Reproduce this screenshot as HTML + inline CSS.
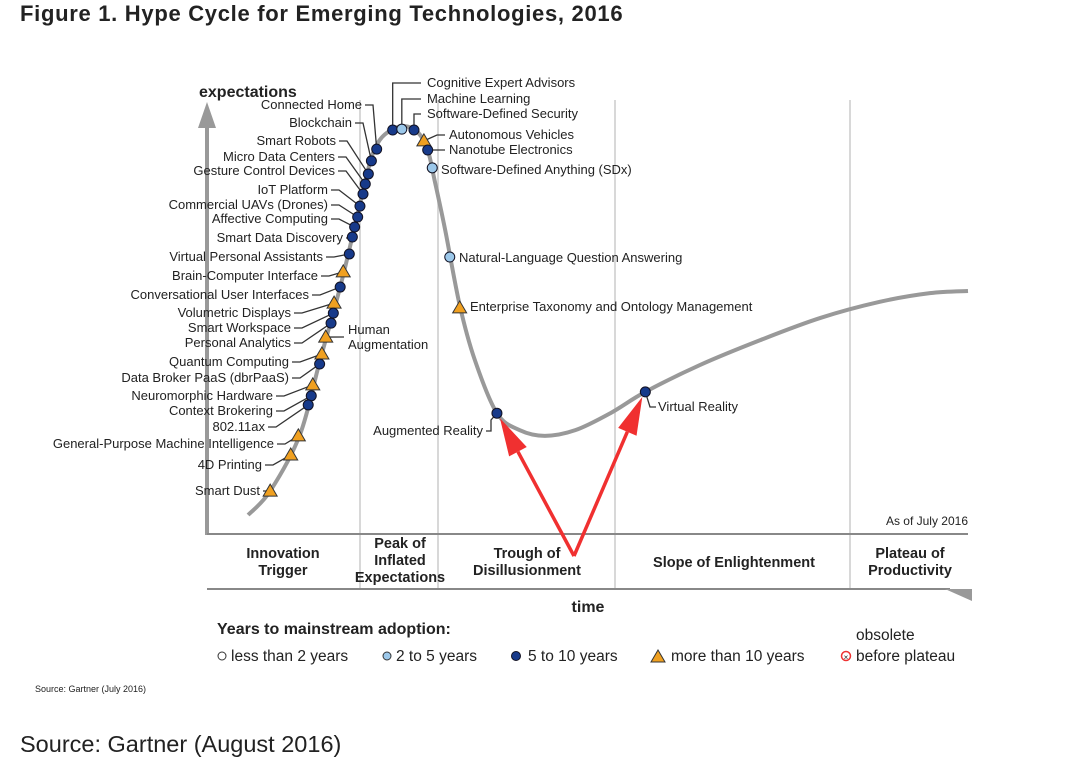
<!DOCTYPE html>
<html><head><meta charset="utf-8">
<style>
body{margin:0;background:#fff;width:1080px;height:760px;overflow:hidden;font-family:"Liberation Sans",sans-serif;}
svg{position:absolute;left:0;top:0}
text{font-family:"Liberation Sans",sans-serif;fill:#222}
</style></head><body>
<svg id="chart" width="1080" height="760">
<text x="20" y="21" font-size="22" font-weight="bold" fill="#333" letter-spacing="0.7">Figure 1. Hype Cycle for Emerging Technologies, 2016</text>
<g stroke="#ccc" stroke-width="1.5">
<line x1="360" y1="100" x2="360" y2="589"/><line x1="438" y1="100" x2="438" y2="589"/>
<line x1="615" y1="100" x2="615" y2="589"/><line x1="850" y1="100" x2="850" y2="589"/>
</g>
<line x1="207" y1="535" x2="207" y2="125" stroke="#999" stroke-width="4"/>
<polygon points="198,128 216,128 207,102" fill="#999"/>
<text x="199" y="97" font-size="16" font-weight="bold">expectations</text>
<line x1="207" y1="534" x2="968" y2="534" stroke="#888" stroke-width="2"/>
<line x1="207" y1="589" x2="950" y2="589" stroke="#888" stroke-width="2"/>
<polygon points="945,589 972,589 972,601" fill="#999"/>
<text x="968" y="525" font-size="12" text-anchor="end">As of July 2016</text>
<g font-size="14.5" font-weight="bold" text-anchor="middle">
<text x="283" y="558">Innovation</text><text x="283" y="575">Trigger</text>
<text x="400" y="548">Peak of</text><text x="400" y="565">Inflated</text><text x="400" y="582">Expectations</text>
<text x="527" y="558">Trough of</text><text x="527" y="575">Disillusionment</text>
<text x="734" y="567">Slope of Enlightenment</text>
<text x="910" y="558">Plateau of</text><text x="910" y="575">Productivity</text>
</g>
<text x="588" y="612" font-size="16" font-weight="bold" text-anchor="middle">time</text>
<g id="plot"></g>
<g font-size="15.5">
<text x="217" y="634" font-weight="bold" font-size="16">Years to mainstream adoption:</text>
<circle cx="222" cy="656" r="4" fill="#fff" stroke="#333"/><text x="231" y="661">less than 2 years</text>
<circle cx="387" cy="656" r="4" fill="#9cc8ea" stroke="#333"/><text x="396" y="661">2 to 5 years</text>
<circle cx="516" cy="656" r="4.5" fill="#173a8a" stroke="#112"/><text x="528" y="661">5 to 10 years</text>
<polygon points="651,662 665,662 658,650" fill="#f0a020" stroke="#333"/><text x="671" y="661">more than 10 years</text>
<circle cx="846" cy="656" r="4.5" fill="#fff" stroke="#e33" stroke-width="1.5"/><text x="846" y="660" font-size="8" fill="#e33" text-anchor="middle">×</text>
<text x="856" y="640">obsolete</text><text x="856" y="661">before plateau</text>
</g>
<text x="35" y="692" font-size="9" fill="#444">Source: Gartner (July 2016)</text>
<text x="20" y="752" font-size="23.5" fill="#666">Source: Gartner (August 2016)</text>
</svg>
<script>
const curveT=[5.4,8.3,12.2,14.8,17.5,19.4,21.4,22.7,24.4,26,27.7,29,29.9,31.3,33.2,35.2,38.1,41.1,44.4,48.4,53,57.6,64.8,72.7,80.6,88.4,95,100];
const curveE=[4.6,10.1,23,39.8,57,70.8,85.5,90.8,93.3,94,92.6,88.5,81.6,70.1,52.9,40.2,28,24.1,22.8,24.1,28,32.9,39.1,44.8,49.9,53.6,55.6,56.1];
const techNames=["Connected Home","Blockchain","Smart Robots","Micro Data Centers","Gesture Control Devices","IoT Platform","Commercial UAVs (Drones)","Affective Computing","Smart Data Discovery","Virtual Personal Assistants","Brain-Computer Interface","Conversational User Interfaces","Volumetric Displays","Smart Workspace","Personal Analytics","Quantum Computing","Data Broker PaaS (dbrPaaS)","Neuromorphic Hardware","Context Brokering","802.11ax","General-Purpose Machine Intelligence","4D Printing","Smart Dust","Human Augmentation","Cognitive Expert Advisors","Machine Learning","Software-Defined Security","Autonomous Vehicles","Nanotube Electronics","Software-Defined Anything (SDx)","Natural-Language Question Answering","Enterprise Taxonomy and Ontology Management","Augmented Reality","Virtual Reality"];
const techT=[22.3,21.6,21.2,20.8,20.5,20.1,19.8,19.4,19.1,18.7,17.9,17.5,16.7,16.6,16.3,15.1,14.8,13.9,13.7,13.3,12.0,11.0,8.3,15.6,24.4,25.6,27.2,28.5,29.0,29.6,31.9,33.2,38.1,57.6];
const techE=[88.7,86.0,83.0,80.7,78.4,75.6,73.1,70.8,68.5,64.6,60.5,57.0,53.3,51.0,48.7,41.6,39.3,34.5,32.0,29.9,22.8,18.4,10.1,45.5,93.1,93.3,93.1,90.6,88.5,84.4,63.9,52.2,28.0,32.9];
const techCat=["d","d","d","d","d","d","d","d","d","d","t","d","t","d","d","t","d","t","d","d","t","t","t","t","d","l","d","t","d","l","l","t","d","d"];
// label layout (pixels): left labels -> [rightEdgeX, baselineY]
const labelLeft=[[362,109],[352,127],[336,145],[335,161],[335,175],[328,194],[328,209],[328,223],[343,242],[323,261],[318,280],[309,299],[291,317],[291,332],[291,347],[289,366],[289,382],[273,400],[273,415],[265,431],[274,448],[262,469],[260,495]];
const X=t=>207+t*7.61, Y=e=>535-e*4.35;
const NS="http://www.w3.org/2000/svg";
const plot=document.getElementById('plot');
function mk(tag,attrs,parent){const el=document.createElementNS(NS,tag);for(const k in attrs)el.setAttribute(k,attrs[k]);(parent||plot).appendChild(el);return el;}
let pts=curveT.map((t,i)=>[X(t),Y(curveE[i])]);
let d="M"+pts[0][0]+","+pts[0][1];
for(let i=0;i<pts.length-1;i++){const p0=pts[Math.max(0,i-1)],p1=pts[i],p2=pts[i+1],p3=pts[Math.min(pts.length-1,i+2)];
d+=" C"+(p1[0]+(p2[0]-p0[0])/6)+","+(p1[1]+(p2[1]-p0[1])/6)+" "+(p2[0]-(p3[0]-p1[0])/6)+","+(p2[1]-(p3[1]-p1[1])/6)+" "+p2[0]+","+p2[1];}
const curve=mk('path',{d:d,fill:"none",stroke:"#999","stroke-width":4});


const leaders=mk('g',{stroke:"#333","stroke-width":1.3,fill:"none"});


const labels=mk('g',{"font-size":13});


function lab(x,y,txt,anchor){const t=mk('text',{x:x,y:y,"text-anchor":anchor||"start"},labels);t.textContent=txt;

}
techNames.forEach((n,i)=>{
 const mx=X(techT[i]),my=Y(techE[i]);
 if(i<labelLeft.length){const [ex,by]=labelLeft[i];lab(ex,by,n,"end");
  mk('polyline',{points:`${ex+3},${by-4} ${ex+11},${by-4} ${mx},${my}`},leaders);}
});
const cx=i=>X(techT[i]), cy=i=>Y(techE[i]);
mk('polyline',{points:`${cx(24)},${cy(24)} ${cx(24)},83 421,83`},leaders);lab(427,87,techNames[24]);
mk('polyline',{points:`${cx(25)},${cy(25)} ${cx(25)},99 421,99`},leaders);lab(427,103,techNames[25]);
mk('polyline',{points:`${cx(26)},${cy(26)} ${cx(26)},114 421,114`},leaders);lab(427,118,techNames[26]);
mk('polyline',{points:`${cx(27)},${cy(27)} 437,135 445,135`},leaders);lab(449,139,techNames[27]);
mk('polyline',{points:`${cx(28)},${cy(28)} 445,150`},leaders);lab(449,154,techNames[28]);
lab(441,174,techNames[29]);lab(459,262,techNames[30]);lab(470,311,techNames[31]);
mk('polyline',{points:`${cx(23)},${cy(23)} 344,337`},leaders);lab(348,334,"Human");lab(348,349,"Augmentation");
mk('polyline',{points:`${cx(32)},${cy(32)} 491,420 491,431 486,431`},leaders);lab(483,435,techNames[32],"end");
mk('polyline',{points:`${cx(33)},${cy(33)} 650,407 656,407`},leaders);lab(658,411,techNames[33]);
techNames.forEach((n,i)=>{
 const mx=X(techT[i]),my=Y(techE[i]);let el;
 if(techCat[i]==="t") el=mk('polygon',{points:`${mx-7},${my+5} ${mx+7},${my+5} ${mx},${my-7}`,fill:"#f0a020",stroke:"#333","stroke-width":1});
 else el=mk('circle',{cx:mx,cy:my,r:5,fill:techCat[i]==="l"?"#9cc8ea":"#173a8a",stroke:"#112","stroke-width":1});
 
 
});
const arr=mk('g',{});


function arrow(x1,y1,x2,y2){const a=Math.atan2(y2-y1,x2-x1),L=38,W=10;
 const bx=x2-L*Math.cos(a),by=y2-L*Math.sin(a);
 mk('line',{x1:x1,y1:y1,x2:bx,y2:by,stroke:"#f03030","stroke-width":3.5},arr);
 mk('polygon',{points:`${x2},${y2} ${bx-W*Math.sin(a)},${by+W*Math.cos(a)} ${bx+W*Math.sin(a)},${by-W*Math.cos(a)}`,fill:"#f03030"},arr);}
arrow(574,556,cx(32)+3,cy(32)+5);arrow(574,556,cx(33)-3,cy(33)+5);
</script>
</body></html>
